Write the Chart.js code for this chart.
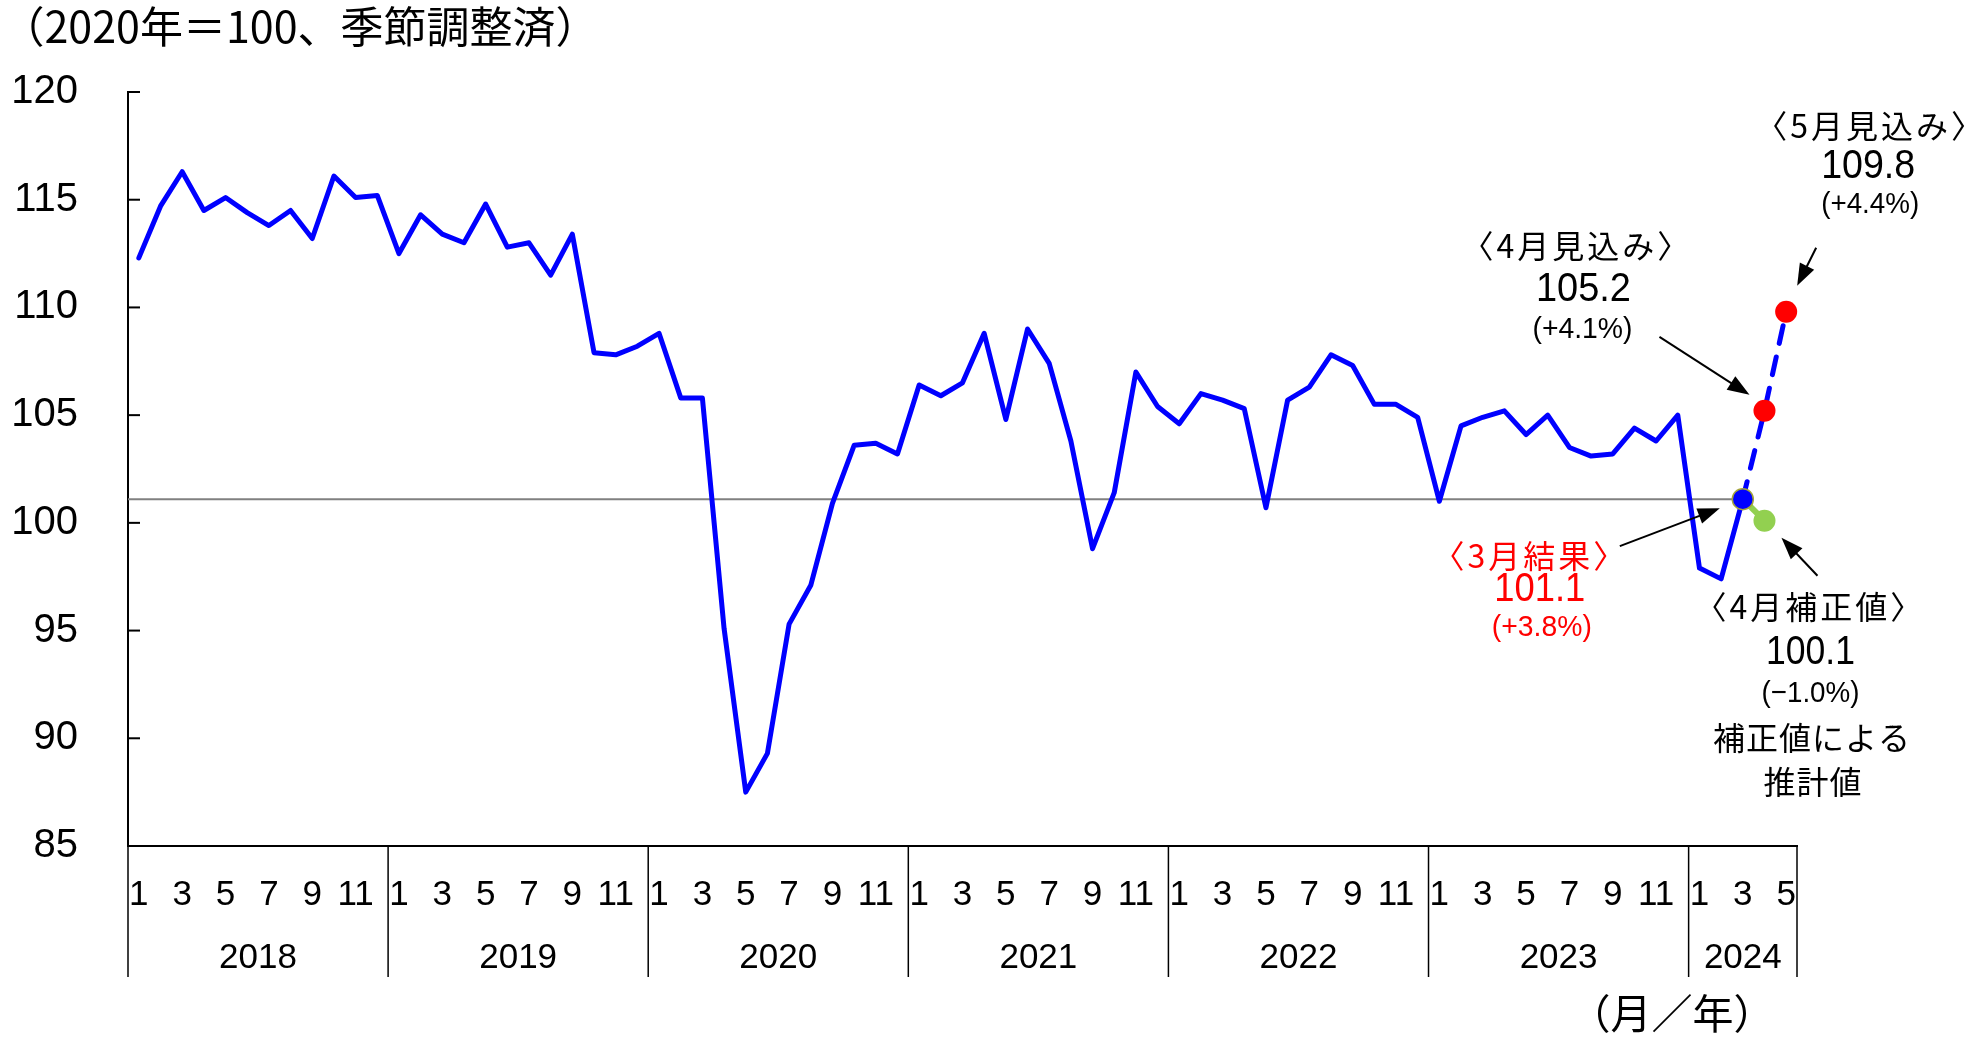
<!DOCTYPE html>
<html lang="ja">
<head>
<meta charset="utf-8">
<script src="https://cdn.jsdelivr.net/npm/chart.js@4.4.1/dist/chart.umd.min.js"></script>
<style>
  body { margin: 0; background: #fff; }
  canvas { display: block; }
</style>
</head>
<body>
<canvas id="iip-chart" width="1982" height="1037"></canvas>
<script>
// 鉱工業生産指数（2020年＝100、季節調整済）
const years = [2018, 2019, 2020, 2021, 2022, 2023, 2024]
const lastYearMonths = 5
const actual = [
  112.3, 114.7, 116.3, 114.5, 115.1, 114.4, 113.8, 114.5, 113.2, 116.1, 115.1, 115.2, // 2018
  112.5, 114.3, 113.4, 113.0, 114.8, 112.8, 113.0, 111.5, 113.4, 107.9, 107.8, 108.2, // 2019
  108.8, 105.8, 105.8, 95.1, 87.5, 89.3, 95.3, 97.1, 100.9, 103.6, 103.7, 103.2,      // 2020
  106.4, 105.9, 106.5, 108.8, 104.8, 109.0, 107.4, 103.8, 98.8, 101.4, 107.0, 105.4,  // 2021
  104.6, 106.0, 105.7, 105.3, 100.7, 105.7, 106.3, 107.8, 107.3, 105.5, 105.5, 104.9, // 2022
  101.0, 104.5, 104.9, 105.2, 104.1, 105.0, 103.5, 103.1, 103.2, 104.4, 103.8, 105.0, // 2023
  97.9, 97.4, 101.1                                                                   // 2024
]
const forecast = [105.2, 109.8]   // 4月見込み, 5月見込み
const corrected = [100.1]         // 4月補正値
const yTicks = [85, 90, 95, 100, 105, 110, 115, 120]

const months = []
years.forEach((y, i) => {
  const n = i === years.length - 1 ? lastYearMonths : 12
  for (let m = 1; m <= n; m++) months.push(m)
})

const lastIdx = actual.length - 1
const lastVal = actual[lastIdx]
const pad = (arr) => months.map((m, i) => {
  if (i < lastIdx) return null
  if (i === lastIdx) return lastVal
  return arr[i - lastIdx - 1] ?? null
})

const JP = '"Noto Sans CJK JP", sans-serif'
const NUM = '"Liberation Sans", Arial, sans-serif'

function txt(ctx, s, x, y, font, color, maxW, spacing) {
  ctx.font = font
  ctx.fillStyle = color
  ctx.textAlign = 'center'
  ctx.textBaseline = 'middle'
  ctx.letterSpacing = spacing ? spacing + 'px' : '0px'
  const dx = spacing ? spacing / 2 : 0
  if (maxW) ctx.fillText(s, x + dx, y, maxW)
  else ctx.fillText(s, x + dx, y)
  ctx.letterSpacing = '0px'
}

function arrow(ctx, x1, y1, x2, y2) {
  const a = Math.atan2(y2 - y1, x2 - x1)
  const len = 22, hw = 8
  ctx.strokeStyle = '#000'
  ctx.fillStyle = '#000'
  ctx.lineWidth = 2
  ctx.beginPath()
  ctx.moveTo(x1, y1)
  ctx.lineTo(x2 - Math.cos(a) * len * 0.8, y2 - Math.sin(a) * len * 0.8)
  ctx.stroke()
  ctx.beginPath()
  ctx.moveTo(x2, y2)
  ctx.lineTo(x2 - Math.cos(a) * len - Math.sin(a) * hw, y2 - Math.sin(a) * len + Math.cos(a) * hw)
  ctx.lineTo(x2 - Math.cos(a) * len + Math.sin(a) * hw, y2 - Math.sin(a) * len - Math.cos(a) * hw)
  ctx.closePath()
  ctx.fill()
}

const overlay = {
  id: 'overlay',
  beforeDatasetsDraw(chart) {
    const {ctx, chartArea, scales: {x, y}} = chart
    // 3月結果の水準線
    const yy = y.getPixelForValue(lastVal)
    ctx.save()
    ctx.strokeStyle = '#808080'
    ctx.lineWidth = 2
    ctx.beginPath()
    ctx.moveTo(chartArea.left, yy)
    ctx.lineTo(x.getPixelForValue(lastIdx), yy)
    ctx.stroke()
    ctx.restore()
  },
  afterDraw(chart) {
    const {ctx, chartArea, scales: {x, y}} = chart
    ctx.save()

    // y ticks (inside)
    ctx.strokeStyle = '#000'
    ctx.lineWidth = 2
    yTicks.forEach(v => {
      const yy = y.getPixelForValue(v)
      ctx.beginPath()
      ctx.moveTo(chartArea.left, yy)
      ctx.lineTo(chartArea.left + 12, yy)
      ctx.stroke()
    })

    // year separators + year labels
    const step = (chartArea.right - chartArea.left) / months.length
    let start = 0
    const bottom = x.top + 131
    ctx.lineWidth = 1.5
    years.forEach((yr, i) => {
      const n = i === years.length - 1 ? lastYearMonths : 12
      const x0 = chartArea.left + start * step
      const x1 = chartArea.left + (start + n) * step
      ctx.beginPath()
      ctx.moveTo(x0, x.top)
      ctx.lineTo(x0, bottom)
      ctx.stroke()
      if (i === years.length - 1) {
        ctx.beginPath()
        ctx.moveTo(x1, x.top)
        ctx.lineTo(x1, bottom)
        ctx.stroke()
      }
      txt(ctx, String(yr), (x0 + x1) / 2, 958, '35px ' + NUM, '#000')
      start += n
    })

    // titles
    txt(ctx, '（2020年＝100、季節調整済）', 300, 27, '43px ' + JP, '#000', 620)
    txt(ctx, '（月／年）', 1672, 1013, '41px ' + JP, '#000')

    const P3 = {x: x.getPixelForValue(lastIdx), y: y.getPixelForValue(lastVal)}
    const P4 = {x: x.getPixelForValue(lastIdx + 1), y: y.getPixelForValue(forecast[0])}
    const P5 = {x: x.getPixelForValue(lastIdx + 2), y: y.getPixelForValue(forecast[1])}
    const G4 = {x: x.getPixelForValue(lastIdx + 1), y: y.getPixelForValue(corrected[0])}
    const LBL = '32px ' + JP

    // 5月見込み
    txt(ctx, '〈5月見込み〉', P5.x + 83, P5.y - 186, LBL, '#000', 0, 3)
    txt(ctx, forecast[1].toFixed(1), P5.x + 82, P5.y - 145, '40px ' + NUM, '#000', 94)
    txt(ctx, '(+4.4%)', P5.x + 84, P5.y - 107, '30px ' + NUM, '#000', 98)
    arrow(ctx, P5.x + 30, P5.y - 64, P5.x + 11, P5.y - 26)

    // 4月見込み
    txt(ctx, '〈4月見込み〉', P4.x - 189, P4.y - 165, LBL, '#000', 0, 3)
    txt(ctx, forecast[0].toFixed(1), P4.x - 181, P4.y - 121, '40px ' + NUM, '#000', 95)
    txt(ctx, '(+4.1%)', P4.x - 182, P4.y - 81, '30px ' + NUM, '#000', 100)
    arrow(ctx, P4.x - 105, P4.y - 74, P4.x - 15, P4.y - 16)

    // 3月結果
    txt(ctx, '〈3月結果〉', P3.x - 214, P3.y + 57, LBL, '#FF0000', 0, 3)
    txt(ctx, lastVal.toFixed(1), P3.x - 203, P3.y + 91, '40px ' + NUM, '#FF0000', 91)
    txt(ctx, '(+3.8%)', P3.x - 201, P3.y + 129, '30px ' + NUM, '#FF0000', 100)
    arrow(ctx, P3.x - 123, P3.y + 47, P3.x - 23, P3.y + 9)

    // 4月補正値
    txt(ctx, '〈4月補正値〉', G4.x + 44, G4.y + 86, LBL, '#000', 0, 3)
    txt(ctx, corrected[0].toFixed(1), G4.x + 46, G4.y + 132, '40px ' + NUM, '#000', 89)
    txt(ctx, '(−1.0%)', G4.x + 46, G4.y + 173, '30px ' + NUM, '#000', 98)
    txt(ctx, '補正値による', G4.x + 47, G4.y + 217, '32px ' + JP, '#000', 0, 1)
    txt(ctx, '推計値', G4.x + 48, G4.y + 261, '32px ' + JP, '#000', 0, 1)
    arrow(ctx, G4.x + 53, G4.y + 55, G4.x + 17, G4.y + 17)

    ctx.restore()
  }
}

new Chart(document.getElementById('iip-chart'), {
  type: 'line',
  data: {
    labels: months,
    datasets: [{
      label: '実績',
      data: actual,
      order: 0,
      borderColor: '#0000FF',
      borderWidth: 5,
      borderJoinStyle: 'round',
      borderCapStyle: 'round',
      tension: 0,
      pointRadius: (c) => c.dataIndex === lastIdx ? 10.5 : 0,
      pointBackgroundColor: '#0000FF',
      pointBorderColor: '#A4A43C',
      pointBorderWidth: 1.5,
    }, {
      label: '見込み',
      data: pad(forecast),
      order: 1,
      borderColor: '#0000FF',
      borderWidth: 5,
      borderDash: [18, 14],
      borderCapStyle: 'round',
      pointRadius: (c) => c.dataIndex > lastIdx ? 11 : 0,
      pointBackgroundColor: '#FF0000',
      pointBorderColor: '#FF0000',
      pointBorderWidth: 0,
    }, {
      label: '補正値',
      data: pad(corrected),
      order: 2,
      borderColor: '#92D050',
      borderWidth: 6,
      pointRadius: (c) => c.dataIndex > lastIdx ? 11 : 0,
      pointBackgroundColor: '#92D050',
      pointBorderColor: '#92D050',
      pointBorderWidth: 0,
    }]
  },
  options: {
    responsive: false,
    devicePixelRatio: 1,
    animation: false,
    events: [],
    layout: {
      padding: {top: 92, right: 185, bottom: 0, left: 0}
    },
    scales: {
      x: {
        offset: true,
        grid: {display: false, drawTicks: false},
        border: {display: true, color: '#000', width: 2},
        afterFit: (s) => { s.height = 191 },
        ticks: {
          autoSkip: false,
          maxRotation: 0,
          minRotation: 0,
          padding: 28,
          color: '#000',
          font: {family: NUM, size: 35},
          callback: function(value, index) {
            const m = months[index]
            return m % 2 === 1 ? String(m) : ''
          }
        }
      },
      y: {
        min: 85,
        max: 120,
        grid: {display: false, drawTicks: false},
        border: {display: true, color: '#000', width: 2},
        afterFit: (s) => { s.width = 128 },
        afterBuildTicks: (s) => { s.ticks = yTicks.map(v => ({value: v})) },
        ticks: {
          padding: 50,
          color: '#000',
          font: {family: NUM, size: 40}
        }
      }
    },
    plugins: {
      legend: {display: false},
      tooltip: {enabled: false}
    }
  },
  plugins: [overlay]
});
</script>
</body>
</html>
